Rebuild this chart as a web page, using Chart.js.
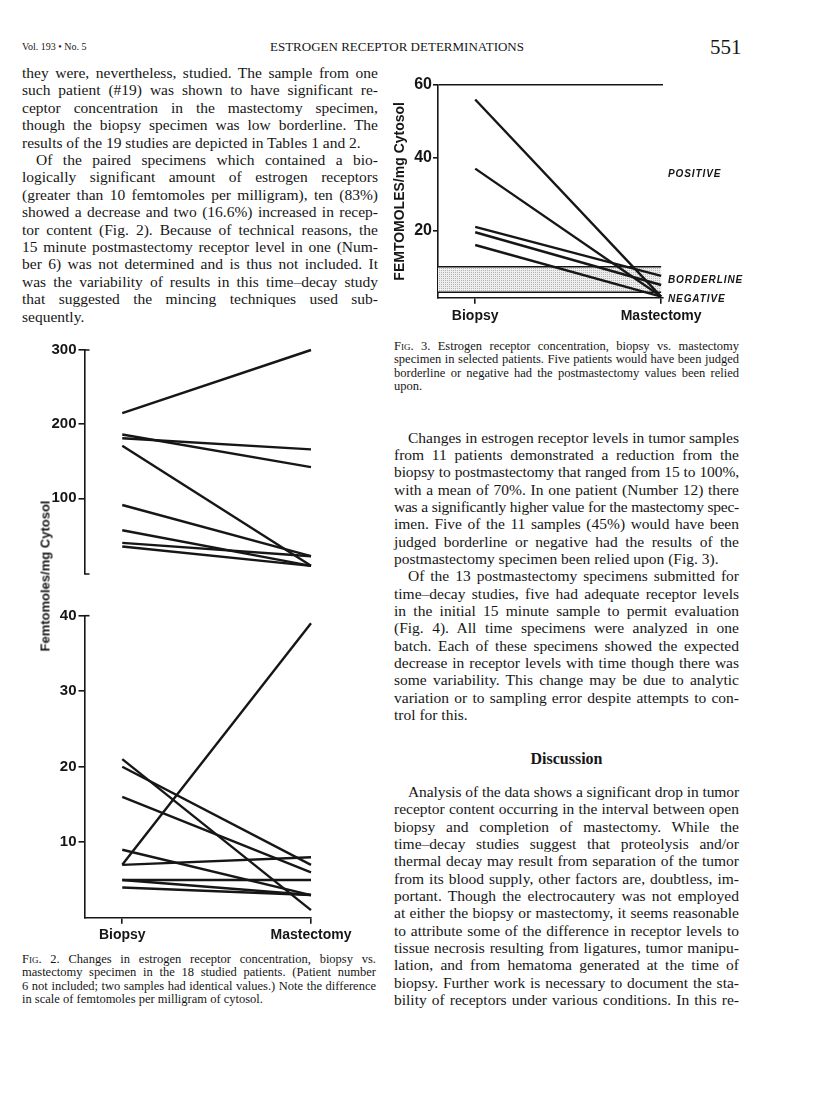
<!DOCTYPE html>
<html>
<head>
<meta charset="utf-8">
<title>Estrogen receptor determinations</title>
<script src="https://cdn.jsdelivr.net/npm/chart.js@4.4.1/dist/chart.umd.min.js"></script>
<style>
  body { margin: 0; width: 816px; height: 1115px; position: relative; background: #fff; color: #161616; font-family: "Liberation Serif", "Times New Roman", serif; overflow: hidden; }
  .abs { position: absolute; white-space: nowrap; }
  .txt { position: absolute; font-size: 15.5px; line-height: 17.4px; }
  .txt div { text-align: justify; text-align-last: justify; white-space: nowrap; }
  .txt div.e { text-align-last: left; }
  .txt div.i { text-indent: 14px; }
  .txt.cap { font-size: 12.5px; line-height: 13.4px; }
  .sc { font-variant: small-caps; }
  .zone { position: absolute; font: italic bold 10px "Liberation Sans", Arial, sans-serif; letter-spacing: 0.9px; line-height: 12px; }
  .ytitle { position: absolute; white-space: nowrap; font: bold 13px "Liberation Sans", Arial, sans-serif; transform: translate(-50%, -50%) rotate(-90deg); }
  canvas { position: absolute; }
</style>
</head>
<body>

<!-- running head -->
<div class="abs" style="left:22px;top:41px;font-size:10px;">Vol. 193 • No. 5</div>
<div class="abs" style="left:270px;top:39px;font-size:13px;">ESTROGEN RECEPTOR DETERMINATIONS</div>
<div class="abs" style="left:710px;top:35px;font-size:21px;">551</div>

<!-- left column -->
<div class="txt" style="left:22px;top:64px;width:356px;">
  <div>they were, nevertheless, studied. The sample from one</div>
  <div>such patient (#19) was shown to have significant re-</div>
  <div>ceptor concentration in the mastectomy specimen,</div>
  <div>though the biopsy specimen was low borderline. The</div>
  <div class="e">results of the 19 studies are depicted in Tables 1 and 2.</div>
  <div class="i">Of the paired specimens which contained a bio-</div>
  <div>logically significant amount of estrogen receptors</div>
  <div>(greater than 10 femtomoles per milligram), ten (83%)</div>
  <div>showed a decrease and two (16.6%) increased in recep-</div>
  <div>tor content (Fig. 2). Because of technical reasons, the</div>
  <div>15 minute postmastectomy receptor level in one (Num-</div>
  <div>ber 6) was not determined and is thus not included. It</div>
  <div>was the variability of results in this time–decay study</div>
  <div>that suggested the mincing techniques used sub-</div>
  <div class="e">sequently.</div>
</div>

<!-- Fig. 2 -->
<canvas id="fig2High" width="360" height="250" style="left:20px;top:335px;"></canvas>
<canvas id="fig2Low" width="360" height="350" style="left:20px;top:600px;"></canvas>
<div class="ytitle" style="left:45px;top:576px;">Femtomoles/mg Cytosol</div>

<div class="txt cap" style="left:22px;top:953px;width:354px;">
  <div><span class="sc">Fig</span>. 2. Changes in estrogen receptor concentration, biopsy vs.</div>
  <div>mastectomy specimen in the 18 studied patients. (Patient number</div>
  <div>6 not included; two samples had identical values.) Note the difference</div>
  <div class="e">in scale of femtomoles per milligram of cytosol.</div>
</div>

<!-- Fig. 3 -->
<canvas id="fig3" width="355" height="262" style="left:385px;top:70px;"></canvas>
<div class="zone" style="left:668px;top:168px;">POSITIVE</div>
<div class="zone" style="left:668px;top:274px;">BORDERLINE</div>
<div class="zone" style="left:668px;top:293px;">NEGATIVE</div>

<div class="txt cap" style="left:394px;top:340px;width:345px;">
  <div><span class="sc">Fig</span>. 3. Estrogen receptor concentration, biopsy vs. mastectomy</div>
  <div>specimen in selected patients. Five patients would have been judged</div>
  <div>borderline or negative had the postmastectomy values been relied</div>
  <div class="e">upon.</div>
</div>

<!-- right column -->
<div class="txt" style="left:394px;top:428.5px;width:345px;line-height:17.35px;">
  <div class="i">Changes in estrogen receptor levels in tumor samples</div>
  <div>from 11 patients demonstrated a reduction from the</div>
  <div>biopsy to postmastectomy that ranged from 15 to 100%,</div>
  <div>with a mean of 70%. In one patient (Number 12) there</div>
  <div>was a significantly higher value for the mastectomy spec-</div>
  <div>imen. Five of the 11 samples (45%) would have been</div>
  <div>judged borderline or negative had the results of the</div>
  <div class="e">postmastectomy specimen been relied upon (Fig. 3).</div>
  <div class="i">Of the 13 postmastectomy specimens submitted for</div>
  <div>time–decay studies, five had adequate receptor levels</div>
  <div>in the initial 15 minute sample to permit evaluation</div>
  <div>(Fig. 4). All time specimens were analyzed in one</div>
  <div>batch. Each of these specimens showed the expected</div>
  <div>decrease in receptor levels with time though there was</div>
  <div>some variability. This change may be due to analytic</div>
  <div>variation or to sampling error despite attempts to con-</div>
  <div class="e">trol for this.</div>
</div>

<div class="abs" style="left:394px;top:750px;width:345px;text-align:center;font-size:16px;font-weight:bold;">Discussion</div>

<div class="txt" style="left:394px;top:783px;width:345px;line-height:17.35px;">
  <div class="i">Analysis of the data shows a significant drop in tumor</div>
  <div>receptor content occurring in the interval between open</div>
  <div>biopsy and completion of mastectomy. While the</div>
  <div>time–decay studies suggest that proteolysis and/or</div>
  <div>thermal decay may result from separation of the tumor</div>
  <div>from its blood supply, other factors are, doubtless, im-</div>
  <div>portant. Though the electrocautery was not employed</div>
  <div>at either the biopsy or mastectomy, it seems reasonable</div>
  <div>to attribute some of the difference in receptor levels to</div>
  <div>tissue necrosis resulting from ligatures, tumor manipu-</div>
  <div>lation, and from hematoma generated at the time of</div>
  <div>biopsy. Further work is necessary to document the sta-</div>
  <div>bility of receptors under various conditions. In this re-</div>
</div>

<script>
// squeeze any text line that is too long for its column
document.querySelectorAll('.txt div').forEach(line => {
    let ls = 0;
    while (line.scrollWidth > line.clientWidth + 0.5 && ls > -1.2) {
        ls -= 0.05;
        line.style.letterSpacing = ls + 'px';
    }
});

// categories on the x axis
const categories = ['Biopsy', 'Mastectomy'];

// Fig. 2 upper panel (fmol/mg cytosol), each pair = [biopsy, mastectomy]
const fig2HighPairs = [[215, 300], [186, 142], [181, 166], [171, 9], [91, 22], [57, 9], [40, 22], [35, 9]];
// Fig. 2 lower panel
const fig2LowPairs = [[21, 1], [20, 7], [16, 6], [7, 39], [7, 8], [9, 3], [5, 5], [5, 3], [4, 3]];
// Fig. 3, selected patients
const fig3Pairs = [[56, 1.8], [37, 1.8], [21, 7.5], [19.5, 5], [16, 1.8]];

// tick labels
const fig2HighTicks = [100, 200, 300];
const fig2LowTicks = [10, 20, 30, 40];
const fig3Ticks = [20, 40, 60];

// borderline zone in fig. 3
const borderlineRange = [3, 10];

const INK = '#161616';
const SANS = "'Liberation Sans', Arial, sans-serif";

function pairDatasets(pairs) {
    return pairs.map(p => ({
        data: p.map((v, i) => ({ x: i, y: v })),
        borderColor: INK,
        borderWidth: 2.4,
        pointRadius: 0,
        clip: false
    }));
}

function yScale(ticks, min, max, width) {
    return {
        type: 'linear', min: min, max: max,
        afterFit: s => { s.width = width; },
        afterBuildTicks: s => { s.ticks = ticks.map(v => ({ value: v })); },
        border: { display: true, color: INK, width: 1.6 },
        grid: { drawOnChartArea: false, color: INK, lineWidth: 1.6, tickLength: 6 },
        ticks: { color: INK, padding: 2, font: { family: SANS, weight: 'bold', size: 15 } }
    };
}

function xScale(max, show, height, pad) {
    return {
        type: 'linear', min: -0.2, max: max, display: show,
        afterFit: s => { s.height = height; },
        afterBuildTicks: s => { s.ticks = categories.map((c, i) => ({ value: i })); },
        border: { display: true, color: INK, width: 1.6 },
        grid: { drawOnChartArea: false, color: INK, lineWidth: 1.6, tickLength: 6 },
        ticks: {
            color: INK, padding: pad, autoSkip: false, maxRotation: 0,
            callback: (v, i) => categories[i],
            font: { family: SANS, weight: 'bold', size: 14 }
        }
    };
}

// short stubs to the right at the ends of the broken y axis
const capPlugin = {
    id: 'caps',
    afterDraw(chart, args, opts) {
        if (!opts.ends) return;
        const { ctx, chartArea, scales: { y } } = chart;
        ctx.save();
        ctx.strokeStyle = INK;
        ctx.lineWidth = 1.6;
        ctx.beginPath();
        opts.ends.forEach(v => {
            const py = y.getPixelForValue(v);
            ctx.moveTo(chartArea.left, py);
            ctx.lineTo(chartArea.left + 5, py);
        });
        ctx.stroke();
        ctx.restore();
    }
};

function stipple() {
    const c = document.createElement('canvas');
    c.width = 2; c.height = 2;
    const g = c.getContext('2d');
    g.fillStyle = '#eeeeee'; g.fillRect(0, 0, 2, 2);
    g.fillStyle = '#b4b4b4'; g.fillRect(0, 0, 1, 1);
    return g.createPattern(c, 'repeat');
}

// shaded borderline band, drawn through the scales
const bandPlugin = {
    id: 'band',
    beforeDatasetsDraw(chart) {
        const { ctx, chartArea, scales: { x, y } } = chart;
        const top = y.getPixelForValue(borderlineRange[1]);
        const bot = y.getPixelForValue(borderlineRange[0]);
        const left = chartArea.left;
        const right = x.getPixelForValue(categories.length - 1);
        ctx.save();
        ctx.fillStyle = stipple();
        ctx.fillRect(left, top, right - left, bot - top);
        ctx.strokeStyle = INK;
        ctx.lineWidth = 1.5;
        ctx.beginPath();
        ctx.moveTo(left, top); ctx.lineTo(right, top);
        ctx.moveTo(left, bot); ctx.lineTo(right, bot);
        ctx.stroke();
        ctx.restore();
    }
};

function baseOptions(padding, scales, ends) {
    return {
        responsive: false,
        animation: false,
        layout: { padding: padding },
        plugins: { legend: { display: false }, tooltip: { enabled: false }, caps: { ends: ends } },
        scales: scales
    };
}

new Chart(document.getElementById('fig2High'), {
    type: 'line',
    data: { datasets: pairDatasets(fig2HighPairs) },
    options: baseOptions({ left: 0, top: 15, right: 69, bottom: 7.7 }, {
        x: xScale(1, false, 0, 0),
        y: yScale(fig2HighTicks, -2, 300, 64.5)
    }, [300, -2]),
    plugins: [capPlugin]
});

new Chart(document.getElementById('fig2Low'), {
    type: 'line',
    data: { datasets: pairDatasets(fig2LowPairs) },
    options: baseOptions({ left: 0, top: 15.7, right: 69, bottom: 0 }, {
        x: xScale(1, true, 32.3, 3),
        y: yScale(fig2LowTicks, 0, 40, 64.5)
    }, [40]),
    plugins: [capPlugin]
});

const fig3Y = yScale(fig3Ticks, 1.5, 60, 53);
fig3Y.ticks.font = { family: SANS, weight: 'bold', size: 16 };
fig3Y.ticks.padding = 1;
fig3Y.grid = {
    drawOnChartArea: true, lineWidth: 1.6, tickLength: 5, tickColor: INK,
    color: c => (c.tick && c.tick.value === 60) ? INK : 'rgba(0,0,0,0)'
};
fig3Y.title = { display: true, text: 'FEMTOMOLES/mg Cytosol', color: INK, padding: { top: 7, bottom: 0 }, font: { family: SANS, weight: 'bold', size: 14 } };

new Chart(document.getElementById('fig3'), {
    type: 'line',
    data: { datasets: pairDatasets(fig3Pairs) },
    options: baseOptions({ left: 0, top: 15, right: 77, bottom: 0 }, {
        x: xScale(1.01, true, 34.3, 4),
        y: fig3Y
    }),
    plugins: [bandPlugin]
});
</script>
</body>
</html>
